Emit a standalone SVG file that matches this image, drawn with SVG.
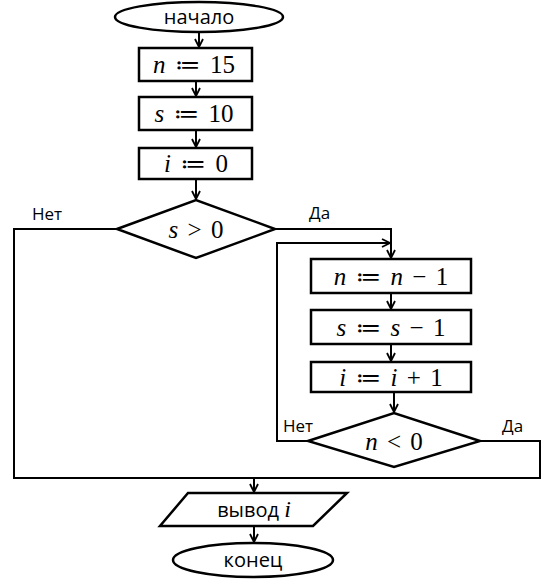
<svg xmlns="http://www.w3.org/2000/svg" width="546" height="582" viewBox="0 0 546 582">
<style>
.s{fill:#fff;stroke:#000;stroke-width:2.5}
.c{fill:none;stroke:#000;stroke-width:2}
.t{font-family:"Open Sans","Noto Sans","DejaVu Sans",sans-serif;font-size:20px;text-anchor:middle}
.m{font-family:"Liberation Serif","DejaVu Serif",serif;font-size:25px;text-anchor:middle;word-spacing:3px}
.v{font-style:italic}
.l{font-family:"Open Sans","Noto Sans","DejaVu Sans",sans-serif;font-size:17px}
</style>
<defs>
<marker id="a" markerWidth="10" markerHeight="10" refX="9" refY="5" orient="auto" markerUnits="userSpaceOnUse">
<path d="M1,1 L9,5 L1,9" fill="none" stroke="#000" stroke-width="1.8"/>
</marker>
</defs>
<g id="connectors">
<path class="c" d="M199,32 V47" marker-end="url(#a)"/>
<path class="c" d="M196,82 V96" marker-end="url(#a)"/>
<path class="c" d="M196,130 V147" marker-end="url(#a)"/>
<path class="c" d="M196,179 V199" marker-end="url(#a)"/>
<path class="c" d="M117,229 H14 V478 H540 V441 H480"/>
<path class="c" d="M275,229 H391 V258" marker-end="url(#a)"/>
<path class="c" d="M308,441 H277 V243 H390" marker-end="url(#a)"/>
<path class="c" d="M391,293 V309" marker-end="url(#a)"/>
<path class="c" d="M391,344 V361" marker-end="url(#a)"/>
<path class="c" d="M394,392 V412" marker-end="url(#a)"/>
<path class="c" d="M254,478 V492" marker-end="url(#a)"/>
<path class="c" d="M254,526 V542" marker-end="url(#a)"/>
<text class="l" x="32" y="220">Нет</text>
<text class="l" x="309" y="219">Да</text>
<text class="l" x="283" y="432">Нет</text>
<text class="l" x="502" y="432">Да</text>
</g>
<g id="start">
<ellipse class="s" cx="199" cy="17" rx="84" ry="15"/>
<text class="t" x="199" y="24">начало</text>
</g>
<g id="n15">
<rect class="s" x="139" y="48" width="113" height="33"/>
<text class="m" x="194" y="73"><tspan class="v">n</tspan> ≔ 15</text>
</g>
<g id="s10">
<rect class="s" x="139" y="97" width="113" height="33"/>
<text class="m" x="194" y="122"><tspan class="v">s</tspan> ≔ 10</text>
</g>
<g id="i0">
<rect class="s" x="139" y="148" width="113" height="31"/>
<text class="m" x="196" y="172"><tspan class="v">i</tspan> ≔ 0</text>
</g>
<g id="cond1">
<polygon class="s" points="117,229 196,200 275,229 196,258"/>
<text class="m" x="196" y="238"><tspan class="v">s</tspan> &gt; 0</text>
</g>
<g id="ndec">
<rect class="s" x="311" y="259" width="160" height="34"/>
<text class="m" x="391" y="285"><tspan class="v">n</tspan> ≔ <tspan class="v">n</tspan> − 1</text>
</g>
<g id="sdec">
<rect class="s" x="311" y="310" width="160" height="34"/>
<text class="m" x="391" y="336"><tspan class="v">s</tspan> ≔ <tspan class="v">s</tspan> − 1</text>
</g>
<g id="iinc">
<rect class="s" x="311" y="362" width="160" height="30"/>
<text class="m" x="391" y="386"><tspan class="v">i</tspan> ≔ <tspan class="v">i</tspan> + 1</text>
</g>
<g id="cond2">
<polygon class="s" points="308,441 394,413 480,441 394,467"/>
<text class="m" x="394" y="450"><tspan class="v">n</tspan> &lt; 0</text>
</g>
<g id="output">
<polygon class="s" points="188,493 347,493 313,526 160,526"/>
<text class="t" x="254" y="517">вывод <tspan class="v" style="font-family:'Liberation Serif',serif;font-size:24px">i</tspan></text>
</g>
<g id="end">
<ellipse class="s" cx="253" cy="560" rx="80" ry="17"/>
<text class="t" x="253" y="567">конец</text>
</g>
</svg>
